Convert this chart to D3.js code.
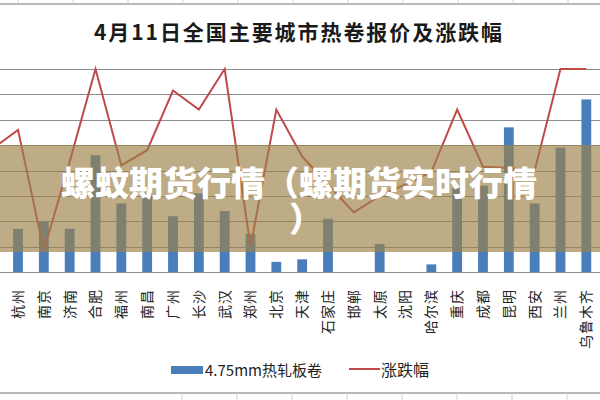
<!DOCTYPE html>
<html>
<head>
<meta charset="utf-8">
<script src="https://cdn.jsdelivr.net/npm/d3@7"></script>
<style>
  body { margin: 0; background: #fff; }
  svg { display: block; font-family: "Noto Sans CJK SC", "Noto Sans", sans-serif; }
</style>
</head>
<body>
<div id="chart"></div>
<script>
// Dades llegides del gràfic (el primer punt queda tallat a l'esquerra)
const ciutats = ["上海", "杭州", "南京", "济南", "合肥", "福州", "南昌", "广州", "长沙", "武汉", "郑州", "北京",
  "天津", "石家庄", "邯郸", "太原", "沈阳", "哈尔滨", "重庆", "成都", "昆明", "西安", "兰州", "乌鲁木齐"];
const preus = [4850, 4785, 4800, 4785, 4930, 4835, 4855, 4810, 4855, 4820, 4775, 4720,
  4725, 4805, 4700, 4755, 4700, 4715, 4865, 4870, 4985, 4835, 4945, 5040];
const variacio = [17, 32, -63, 7, 80, 4, 16, 63, 48, 80, -60, 48,
  11, -11, -33, -20, -11, -1, 48, 3, 2, 0, 80, 80];
const dominiPreu = [4700, 5100];
const dominiVar = [-80, 80];
const titol = "4月11日全国主要城市热卷报价及涨跌幅";
const nomBarres = "4.75mm热轧板卷";
const nomLinia = "涨跌幅";

const ample = 600, alt = 400;
const svg = d3.select("#chart").append("svg")
  .attr("width", ample).attr("height", alt);

// Vores de la fulla de càlcul
const separadors = d3.range(18, 600, 55);
svg.append("line").attr("x1", 0).attr("x2", ample).attr("y1", 4).attr("y2", 4)
  .attr("stroke", "#b8b8b8").attr("stroke-width", 2);
svg.selectAll(".celaSup").data(separadors).enter().append("line")
  .attr("x1", d => d).attr("x2", d => d).attr("y1", 0).attr("y2", 4)
  .attr("stroke", "#d0d0d0");
svg.append("line").attr("x1", 0).attr("x2", ample).attr("y1", 393).attr("y2", 393)
  .attr("stroke", "#b8b8b8").attr("stroke-width", 2);
svg.selectAll(".celaInf").data(separadors).enter().append("line")
  .attr("x1", d => d + 164).attr("x2", d => d + 164).attr("y1", 393).attr("y2", 400)
  .attr("stroke", "#d0d0d0");

// Escales
const escalaX = d3.scaleBand().domain(ciutats).range([-28.75, 607.25]).padding(0.62);
const escalaY = d3.scaleLinear().domain(dominiPreu).range([272, 69]);
const escalaY2 = d3.scaleLinear().domain(dominiVar).range([272, 69]);
const centre = d => escalaX(d) + escalaX.bandwidth() / 2;

// Línies de la graella
svg.append("g").selectAll("line").data(escalaY.ticks(8)).enter().append("line")
  .attr("x1", 0).attr("x2", ample)
  .attr("y1", d => Math.round(escalaY(d)) + 0.5).attr("y2", d => Math.round(escalaY(d)) + 0.5)
  .attr("stroke", "#8c8c8c").attr("stroke-width", 1);

// Barres
svg.append("g").selectAll("rect").data(ciutats).enter().append("rect")
  .attr("x", d => escalaX(d))
  .attr("y", (d, i) => escalaY(preus[i]))
  .attr("width", escalaX.bandwidth())
  .attr("height", (d, i) => escalaY(dominiPreu[0]) - escalaY(preus[i]))
  .attr("fill", "#4a7ebb");

// Línia de variació
const linia = d3.line()
  .x((d, i) => centre(ciutats[i]))
  .y(d => escalaY2(d));
svg.append("path").datum(variacio)
  .attr("d", linia)
  .attr("fill", "none").attr("stroke", "#be4b48").attr("stroke-width", 2);

// Eix X (només les etiquetes que queden dins la imatge)
svg.append("line").attr("x1", 0).attr("x2", ample).attr("y1", 272.5).attr("y2", 272.5)
  .attr("stroke", "#8c8c8c");
svg.append("g").selectAll("text").data(ciutats.filter(d => centre(d) > 0)).enter().append("text")
  .attr("transform", d => `translate(${centre(d)}, 289) rotate(-90)`)
  .attr("text-anchor", "end")
  .attr("dy", "0.35em")
  .attr("font-size", 14)
  .attr("letter-spacing", 1)
  .attr("fill", "#222")
  .text(d => d);

// Títol
svg.append("text").attr("x", 94).attr("y", 40)
  .attr("font-size", 21).attr("font-weight", "bold").attr("fill", "#1a1a1a")
  .attr("textLength", 408).attr("lengthAdjust", "spacing")
  .text(titol);

// Llegenda
svg.append("rect").attr("x", 171).attr("y", 366).attr("width", 32).attr("height", 8)
  .attr("fill", "#4a7ebb");
svg.append("text").attr("x", 205).attr("y", 376).attr("font-size", 15).attr("fill", "#222")
  .text(nomBarres);
svg.append("line").attr("x1", 349).attr("x2", 380).attr("y1", 369).attr("y2", 369)
  .attr("stroke", "#be4b48").attr("stroke-width", 2);
svg.append("text").attr("x", 381).attr("y", 376).attr("font-size", 16).attr("fill", "#222")
  .text(nomLinia);

// Franja superposada amb el text
svg.append("rect").attr("x", 0).attr("y", 145).attr("width", ample).attr("height", 107)
  .attr("fill", "rgb(156,129,73)").attr("fill-opacity", 0.66);
svg.append("text").attr("x", 299).attr("y", 196)
  .attr("text-anchor", "middle").attr("font-size", 34).attr("font-weight", 900)
  .attr("fill", "#fff")
  .text("螺蚊期货行情（螺期货实时行情");
svg.append("text").attr("x", 306).attr("y", 232)
  .attr("text-anchor", "middle").attr("font-size", 34).attr("font-weight", 900)
  .attr("fill", "#fff")
  .text("）");
</script>
</body>
</html>
